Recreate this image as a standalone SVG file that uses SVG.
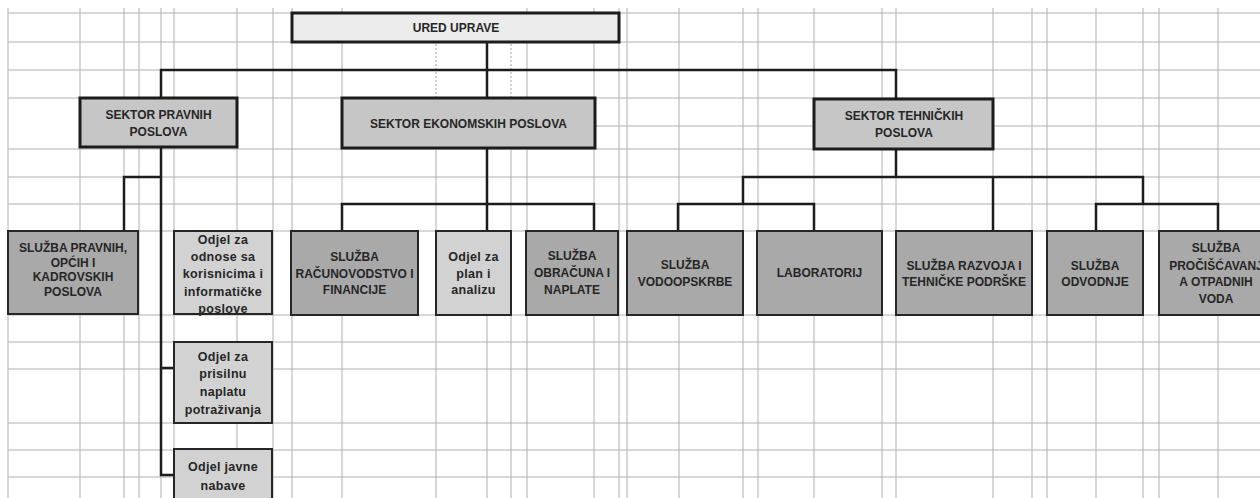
<svg xmlns="http://www.w3.org/2000/svg" width="1260" height="498" viewBox="0 0 1260 498">
<style>
.grid line{stroke:#b0b0b0;stroke-width:1}
.dot{stroke:#a0a0a0;stroke-width:1;stroke-dasharray:2 2}
.conn{fill:none;stroke:#1c1c1c;stroke-width:2.5}
.t{font-family:"Liberation Sans",Arial,sans-serif;font-weight:bold;font-size:12px;fill:#262626;text-anchor:middle}
.lc{font-size:12.5px;letter-spacing:0.3px}
.top{fill:#ececec;stroke:#1c1c1c;stroke-width:3}
.sek{fill:#c6c6c6;stroke:#1c1c1c;stroke-width:3}
.dark{fill:#a9a9a9;stroke:#262626;stroke-width:2}
.light{fill:#d2d2d2;stroke:#262626;stroke-width:2}
</style>
<rect width="1260" height="498" fill="#ffffff"/>
<g class="grid">
<line x1="8" y1="8" x2="8" y2="498"/>
<line x1="80" y1="8" x2="80" y2="498"/>
<line x1="124" y1="8" x2="124" y2="498"/>
<line x1="139" y1="8" x2="139" y2="498"/>
<line x1="161" y1="8" x2="161" y2="498"/>
<line x1="174" y1="8" x2="174" y2="498"/>
<line x1="237" y1="8" x2="237" y2="498"/>
<line x1="273" y1="8" x2="273" y2="498"/>
<line x1="292" y1="8" x2="292" y2="498"/>
<line x1="342" y1="8" x2="342" y2="498"/>
<line x1="436" y1="98" x2="436" y2="498"/>
<line x1="487" y1="98" x2="487" y2="498"/>
<line x1="511" y1="98" x2="511" y2="498"/>
<line x1="527" y1="8" x2="527" y2="498"/>
<line x1="594" y1="8" x2="594" y2="498"/>
<line x1="619" y1="8" x2="619" y2="498"/>
<line x1="627" y1="8" x2="627" y2="498"/>
<line x1="679" y1="8" x2="679" y2="498"/>
<line x1="743" y1="8" x2="743" y2="498"/>
<line x1="758" y1="8" x2="758" y2="498"/>
<line x1="814" y1="8" x2="814" y2="498"/>
<line x1="882" y1="8" x2="882" y2="498"/>
<line x1="896" y1="8" x2="896" y2="498"/>
<line x1="993" y1="8" x2="993" y2="498"/>
<line x1="1032" y1="8" x2="1032" y2="498"/>
<line x1="1047" y1="8" x2="1047" y2="498"/>
<line x1="1096" y1="8" x2="1096" y2="498"/>
<line x1="1143" y1="8" x2="1143" y2="498"/>
<line x1="1159" y1="8" x2="1159" y2="498"/>
<line x1="1218" y1="8" x2="1218" y2="498"/>
<line x1="8" y1="13" x2="1260" y2="13"/>
<line x1="8" y1="42" x2="1260" y2="42"/>
<line x1="8" y1="70" x2="1260" y2="70"/>
<line x1="8" y1="98" x2="1260" y2="98"/>
<line x1="595" y1="126" x2="1260" y2="126"/>
<line x1="8" y1="149" x2="1260" y2="149"/>
<line x1="8" y1="177" x2="1260" y2="177"/>
<line x1="8" y1="204" x2="1260" y2="204"/>
<line x1="8" y1="231" x2="1260" y2="231"/>
<line x1="8" y1="315" x2="1260" y2="315"/>
<line x1="8" y1="342" x2="1260" y2="342"/>
<line x1="8" y1="369" x2="1260" y2="369"/>
<line x1="8" y1="423" x2="1260" y2="423"/>
<line x1="8" y1="450" x2="1260" y2="450"/>
<line x1="8" y1="477" x2="1260" y2="477"/>
</g>
<g id="grid-dotted">
<line class="dot" x1="436" y1="44" x2="436" y2="97"/>
<line class="dot" x1="511" y1="44" x2="511" y2="97"/>
</g>
<g id="connectors">
<path class="conn" d="M487 42 V98 M161 98 V70 H896 V99"/>
<path class="conn" d="M161 147 V475 H174 M161 368 H174 M161 177 H124 V231"/>
<path class="conn" d="M487 148 V231 M342 231 V204 H594 V231"/>
<path class="conn" d="M896 149 V177 M743 204 V177 H1143 V204 M678 231 V204 H814 V231 M993 177 V231 M1096 231 V204 H1218 V231"/>
</g>
<g id="ured-uprave">
<rect class="top" x="292" y="13" width="327" height="29"/>
<text class="t" x="456" y="32">URED UPRAVE</text>
</g>
<g id="sektor-pravnih">
<rect class="sek" x="80" y="98" width="157" height="49"/>
<text class="t" x="158.5" y="119">SEKTOR PRAVNIH</text>
<text class="t" x="158.5" y="136">POSLOVA</text>
</g>
<g id="sektor-ekonomskih">
<rect class="sek" x="342" y="98" width="253" height="50"/>
<text class="t" x="468.5" y="128">SEKTOR EKONOMSKIH POSLOVA</text>
</g>
<g id="sektor-tehnickih">
<rect class="sek" x="814" y="99" width="179" height="50"/>
<text class="t" x="904" y="120">SEKTOR TEHNIČKIH</text>
<text class="t" x="904" y="137">POSLOVA</text>
</g>
<g id="sluzba-pravnih">
<rect class="dark" x="8" y="231" width="130" height="83"/>
<text class="t" x="73" y="252">SLUŽBA PRAVNIH,</text>
<text class="t" x="73" y="266.5">OPĆIH I</text>
<text class="t" x="73" y="281">KADROVSKIH</text>
<text class="t" x="73" y="296">POSLOVA</text>
</g>
<g id="odjel-odnose">
<rect class="light" x="174" y="231" width="98" height="83"/>
<text class="t lc" x="223" y="244">Odjel za</text>
<text class="t lc" x="223" y="261">odnose sa</text>
<text class="t lc" x="223" y="278">korisnicima i</text>
<text class="t lc" x="223" y="296">informatičke</text>
<text class="t lc" x="223" y="313">poslove</text>
</g>
<g id="sluzba-racunovodstvo">
<rect class="dark" x="291" y="231" width="127" height="84"/>
<text class="t" x="354.5" y="261">SLUŽBA</text>
<text class="t" x="354.5" y="277.5">RAČUNOVODSTVO I</text>
<text class="t" x="354.5" y="294">FINANCIJE</text>
</g>
<g id="odjel-plan">
<rect class="light" x="436" y="231" width="75" height="84"/>
<text class="t lc" x="473.5" y="261">Odjel za</text>
<text class="t lc" x="473.5" y="277.5">plan i</text>
<text class="t lc" x="473.5" y="294">analizu</text>
</g>
<g id="sluzba-obracuna">
<rect class="dark" x="526" y="231" width="92" height="84"/>
<text class="t" x="572" y="260">SLUŽBA</text>
<text class="t" x="572" y="277">OBRAČUNA I</text>
<text class="t" x="572" y="294">NAPLATE</text>
</g>
<g id="sluzba-vodoopskrbe">
<rect class="dark" x="627" y="231" width="116" height="84"/>
<text class="t" x="685" y="269">SLUŽBA</text>
<text class="t" x="685" y="286">VODOOPSKRBE</text>
</g>
<g id="laboratorij">
<rect class="dark" x="757" y="231" width="125" height="84"/>
<text class="t" x="819.5" y="277">LABORATORIJ</text>
</g>
<g id="sluzba-razvoja">
<rect class="dark" x="896" y="231" width="136" height="84"/>
<text class="t" x="964" y="270">SLUŽBA RAZVOJA I</text>
<text class="t" x="964" y="286">TEHNIČKE PODRŠKE</text>
</g>
<g id="sluzba-odvodnje">
<rect class="dark" x="1047" y="231" width="96" height="84"/>
<text class="t" x="1095" y="270">SLUŽBA</text>
<text class="t" x="1095" y="286">ODVODNJE</text>
</g>
<g id="sluzba-prociscavanja">
<rect class="dark" x="1159" y="231" width="116" height="84"/>
<text class="t" x="1216" y="252">SLUŽBA</text>
<text class="t" x="1216" y="270">PROČIŠĆAVANJ</text>
<text class="t" x="1216" y="286">A OTPADNIH</text>
<text class="t" x="1216" y="303">VODA</text>
</g>
<g id="odjel-prisilnu">
<rect class="light" x="174" y="342" width="98" height="81"/>
<text class="t lc" x="223" y="361">Odjel za</text>
<text class="t lc" x="223" y="378">prisilnu</text>
<text class="t lc" x="223" y="396">naplatu</text>
<text class="t lc" x="223" y="414">potraživanja</text>
</g>
<g id="odjel-javne-nabave">
<rect class="light" x="174" y="449" width="98" height="60"/>
<text class="t lc" x="223" y="471">Odjel javne</text>
<text class="t lc" x="223" y="490">nabave</text>
</g>
</svg>
